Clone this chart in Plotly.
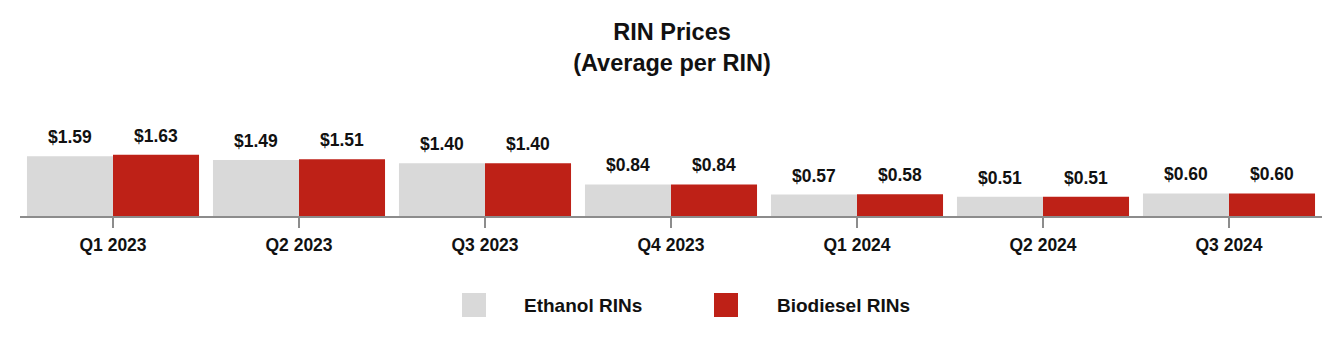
import plotly.graph_objects as go

quarters = ["Q1 2023", "Q2 2023", "Q3 2023", "Q4 2023", "Q1 2024", "Q2 2024", "Q3 2024"]
ethanol = [1.59, 1.49, 1.40, 0.84, 0.57, 0.51, 0.60]
biodiesel = [1.63, 1.51, 1.40, 0.84, 0.58, 0.51, 0.60]
series_names = ["Ethanol RINs", "Biodiesel RINs"]

GRAY = "#D9D9D9"
RED = "#BE2117"
FONT = "Liberation Sans, Arial, Helvetica, sans-serif"
INK = "#111111"

W, H = 1344, 350
ML, MR, MT, MB = 20, 22, 122, 134
PW, PH = W - ML - MR, H - MT - MB


def px_x(x):
    return (x - ML) / PW


def px_y(y):
    return (H - MB - y) / PH


fig = go.Figure()
fig.add_trace(go.Bar(x=quarters, y=ethanol, name=series_names[0], marker_color=GRAY,
                     marker_line_width=0, showlegend=False))
fig.add_trace(go.Bar(x=quarters, y=biodiesel, name=series_names[1], marker_color=RED,
                     marker_line_width=0, showlegend=False))

# value labels above each bar
bar_px = PW / len(quarters) * (1 - 0.075) / 2
label_font = dict(family=FONT, size=17.5, color=INK, weight="bold")
for q, e, b in zip(quarters, ethanol, biodiesel):
    for val, shift in ((e, -bar_px / 2), (b, bar_px / 2)):
        fig.add_annotation(x=q, y=val, xref="x", yref="y", text=f"${val:.2f}",
                           showarrow=False, yanchor="bottom", xshift=shift, yshift=7,
                           font=label_font)

# legend drawn as swatches + labels under the axis
legend_items = [(462, GRAY, 522, series_names[0]), (714, RED, 775, series_names[1])]
for sx, color, tx, name in legend_items:
    fig.add_shape(type="rect", xref="paper", yref="paper",
                  x0=px_x(sx), x1=px_x(sx + 24), y0=px_y(317), y1=px_y(293),
                  fillcolor=color, line_width=0)
    fig.add_annotation(xref="paper", yref="paper", x=px_x(tx), y=px_y(305),
                       xanchor="left", yanchor="middle", text=name, showarrow=False,
                       font=dict(family=FONT, size=19, color=INK, weight="bold"))

fig.update_layout(
    width=W, height=H,
    margin=dict(l=ML, r=MR, t=MT, b=MB),
    paper_bgcolor="white", plot_bgcolor="white",
    barmode="group", bargap=0.075, bargroupgap=0,
    title=dict(text="RIN Prices<br>(Average per RIN)", x=0.5, xanchor="center",
               yref="container", y=1 - 40 / H, yanchor="top",
               font=dict(family=FONT, size=23.5, color=INK, weight="bold")),
    xaxis=dict(showline=True, linecolor="#8C8C8C", linewidth=2,
               ticks="outside", ticklen=10, tickwidth=1.5, tickcolor="#8C8C8C",
               ticklabelstandoff=2,
               tickfont=dict(family=FONT, size=17.5, color=INK, weight="bold"),
               showgrid=False, zeroline=False),
    yaxis=dict(visible=False, range=[0, 2.5], showgrid=False, zeroline=False),
    showlegend=False,
)

fig.write_html("out.html")
